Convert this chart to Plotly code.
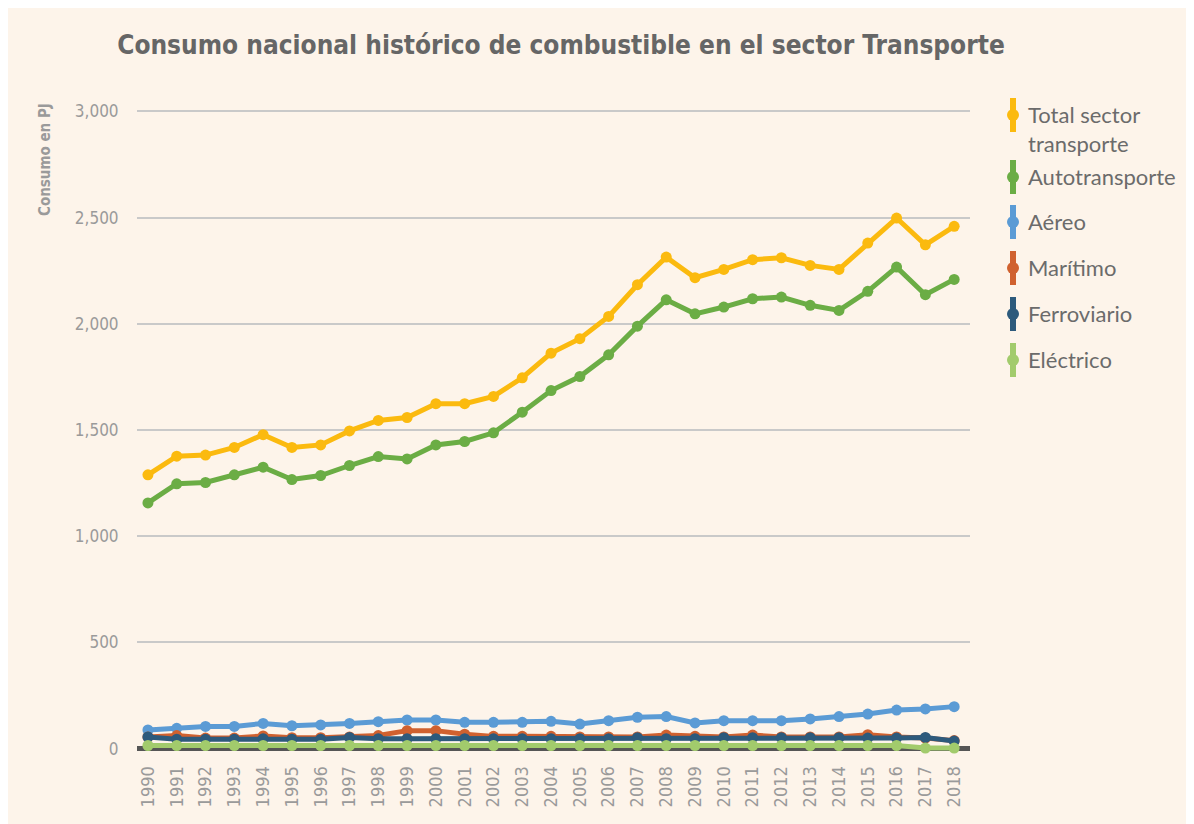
import plotly.graph_objects as go

years = list(range(1990, 2019))

total = [1289, 1377, 1382, 1418, 1478, 1418, 1430, 1496, 1545, 1559, 1624, 1624, 1658, 1746,
         1862, 1930, 2035, 2184, 2314, 2217, 2256, 2302, 2311, 2275, 2256, 2380, 2498, 2372, 2459]
auto = [1157, 1247, 1253, 1289, 1325, 1267, 1286, 1333, 1375, 1364, 1430, 1446, 1487, 1584,
        1686, 1752, 1854, 1989, 2113, 2047, 2079, 2118, 2126, 2087, 2063, 2153, 2267, 2137, 2209]
aereo = [88, 96, 105, 105, 119, 108, 112, 119, 127, 135, 135, 124, 124, 124,
         129, 116, 132, 148, 151, 121, 132, 132, 132, 140, 151, 163, 182, 187, 198]
maritimo = [55, 62, 50, 50, 60, 52, 52, 55, 62, 85, 85, 68, 58, 58,
            58, 55, 55, 55, 64, 58, 55, 64, 55, 55, 55, 66, 55, 50, 38]
ferroviario = [55, 45, 45, 45, 47, 45, 45, 53, 47, 47, 47, 47, 47, 47,
               47, 47, 47, 52, 47, 47, 52, 52, 52, 52, 52, 50, 50, 53, 36]
electrico = [15, 15, 15, 15, 15, 15, 15, 15, 15, 15, 15, 15, 15, 15,
             15, 15, 15, 15, 15, 15, 15, 15, 15, 15, 15, 15, 15, 3, 3]

names = ["Total sector<br>transporte", "Autotransporte", "Aéreo", "Marítimo", "Ferroviario", "Eléctrico"]
series = [total, auto, aereo, maritimo, ferroviario, electrico]
colors = ["#FBBA0F", "#6BAD45", "#5B9BD5", "#D0612F", "#2D5A7C", "#A2CB6C"]
yticks = [0, 500, 1000, 1500, 2000, 2500, 3000]
ytick_text = ["0", "500", "1,000", "1,500", "2,000", "2,500", "3,000"]

BG = "#FDF4EA"
TICKFONT = "Liberation Sans Narrow, DejaVu Sans Condensed, sans-serif"
BOLDFONT = "DejaVu Sans Condensed, DejaVu Sans, sans-serif"

fig = go.Figure()
for name, vals, col in zip(names, series, colors):
    fig.add_trace(go.Scatter(
        x=years, y=vals, name=name, mode="lines+markers",
        line=dict(color=col, width=5),
        marker=dict(color=col, size=11),
        showlegend=False,
    ))

# page body has an 8px margin; work in screenshot pixels and convert
OFF = 8
L, R, T, B = 137 - OFF, 970 - OFF, 105 - OFF, 754 - OFF
W, H = R - L, B - T

def px_x(p):
    return (p - OFF - L) / W

def px_y(p):
    return (B - (p - OFF)) / H

shapes = []
annotations = []
legend_y = [115, 177, 222, 268, 314, 360]
for name, col, ly in zip(names, colors, legend_y):
    shapes.append(dict(type="line", xref="paper", yref="paper",
                       x0=px_x(1013), x1=px_x(1013), y0=px_y(ly - 17), y1=px_y(ly + 17),
                       line=dict(color=col, width=6)))
    shapes.append(dict(type="circle", xref="paper", yref="paper",
                       x0=px_x(1007), x1=px_x(1019), y0=px_y(ly + 6), y1=px_y(ly - 6),
                       fillcolor=col, line=dict(color=col, width=0)))
    annotations.append(dict(text=name, xref="paper", yref="paper",
                            x=px_x(1026), y=px_y(ly - 16), xanchor="left", yanchor="top",
                            align="left", showarrow=False,
                            font=dict(family="Lato, Noto Sans, sans-serif", size=22, color="#6b6b6b")))

annotations.append(dict(text="<b>Consumo en PJ</b>", xref="paper", yref="paper",
                        x=px_x(45), y=px_y(160), textangle=-90, showarrow=False,
                        xanchor="center", yanchor="middle",
                        font=dict(family=BOLDFONT, size=15, color="#9a9a9a")))

fig.update_layout(
    width=1194, height=824,
    paper_bgcolor=BG, plot_bgcolor=BG,
    margin=dict(l=L, r=1194 - R, t=T, b=824 - B),
    title=dict(text="<b>Consumo nacional histórico de combustible en el sector Transporte</b>",
               x=(561 - OFF) / 1194, xanchor="center", y=1 - (45 - OFF) / 824, yanchor="middle",
               font=dict(family=BOLDFONT, size=26, color="#666666")),
    xaxis=dict(range=[1989.62, 2018.55], tickmode="array", tickvals=years,
               ticktext=[str(y) for y in years], tickangle=-90,
               showgrid=False, zeroline=False, showline=False,
               ticks="outside", ticklen=4, tickcolor=BG,
               tickfont=dict(family=TICKFONT, size=18, color="#9a9a9a")),
    yaxis=dict(range=[-25, 3030], tickmode="array", tickvals=yticks, ticktext=ytick_text,
               showgrid=True, gridcolor="#c9c9c9", gridwidth=2,
               zeroline=True, zerolinecolor="#555555", zerolinewidth=5,
               showline=False, ticks="outside", ticklen=14, tickcolor=BG,
               tickfont=dict(family=TICKFONT, size=17, color="#9a9a9a")),
    shapes=shapes,
    annotations=annotations,
    showlegend=False,
)

fig.write_html("out.html")
